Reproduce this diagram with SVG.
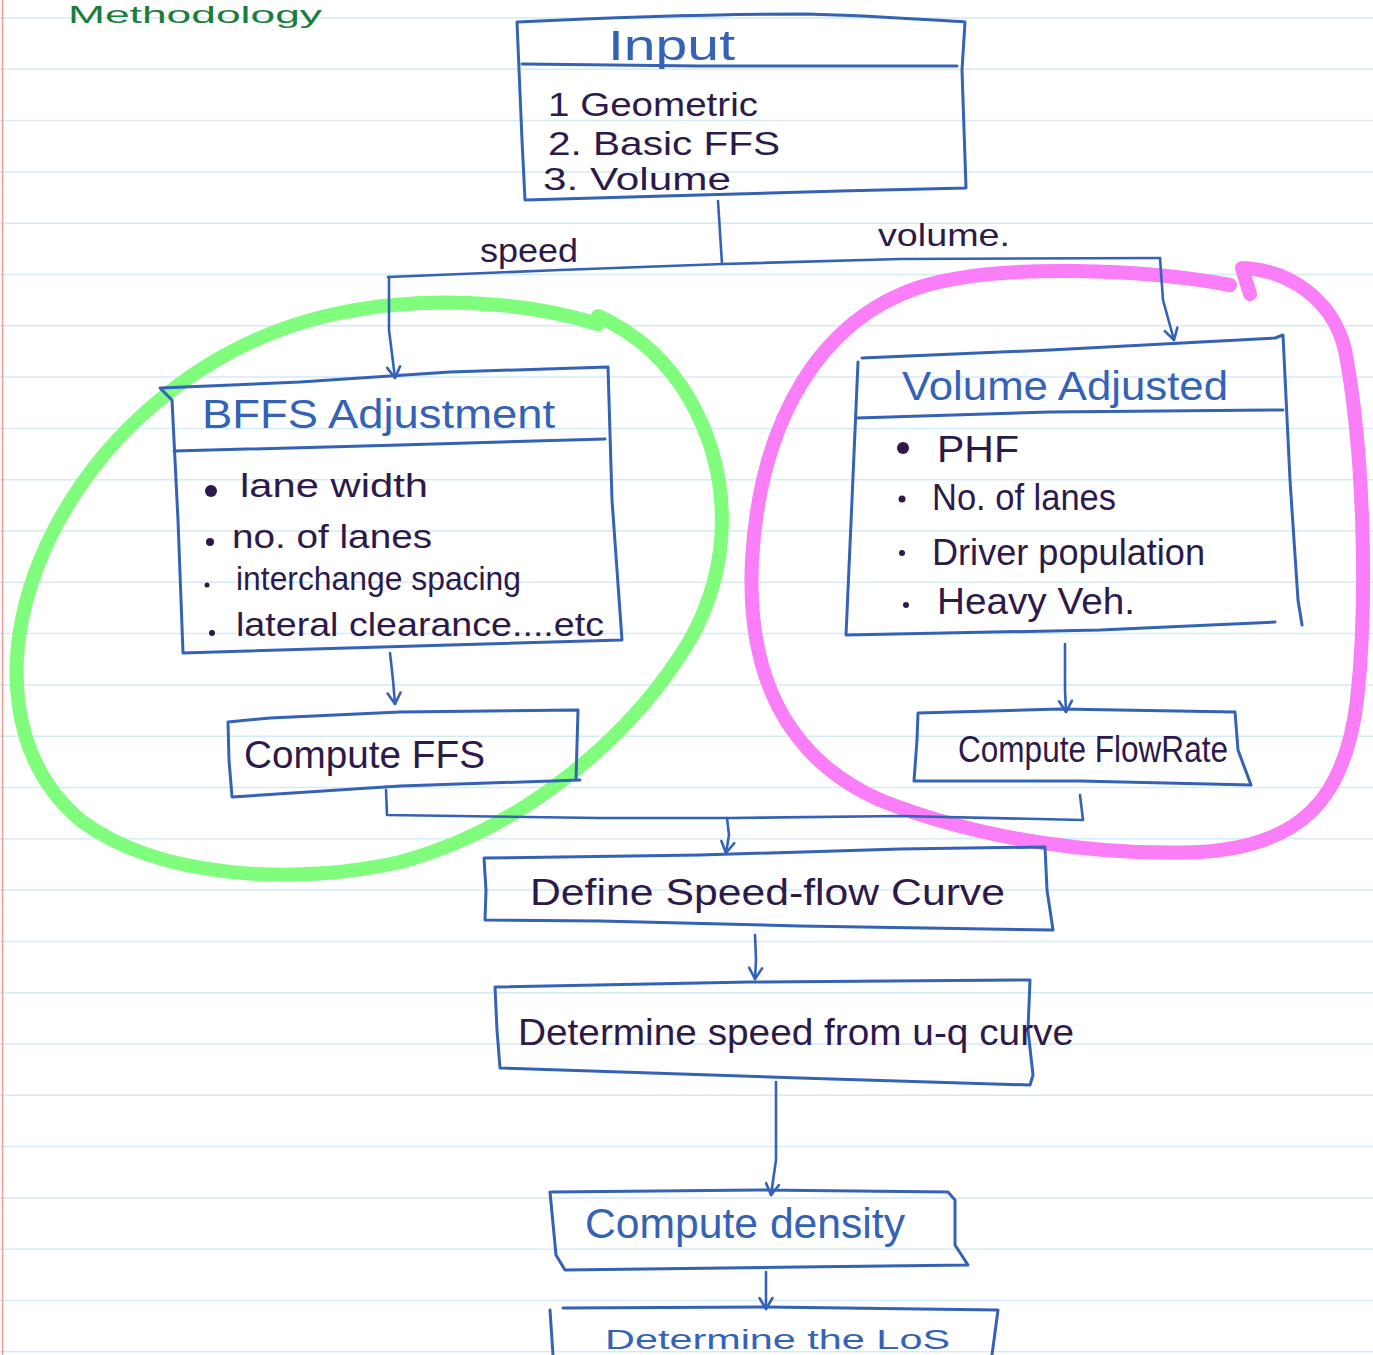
<svg xmlns="http://www.w3.org/2000/svg" width="1373" height="1355" viewBox="0 0 1373 1355">
<defs>
<style>
.rule{stroke:#d3eaf7;stroke-width:1.5}
.box{fill:none;stroke:#3462b6;stroke-width:3;stroke-linecap:round;stroke-linejoin:round}
.con{fill:none;stroke:#3462b6;stroke-width:2.6;stroke-linecap:round;stroke-linejoin:round}
.t{font-family:"Liberation Sans","DejaVu Sans",sans-serif;fill:#2d1a4a}
.tb{font-family:"Liberation Sans","DejaVu Sans",sans-serif;fill:#3462b6}
.hl{fill:none;stroke-width:14;stroke-linecap:round;stroke-linejoin:round}
.dot{fill:#2d1a4a}
</style>
<marker id="arr" viewBox="0 0 16 16" refX="14" refY="8" markerWidth="16" markerHeight="16" markerUnits="userSpaceOnUse" orient="auto">
<path d="M3,1.5 L14,8 L3,14.5" fill="none" stroke="#3462b6" stroke-width="2.6" stroke-linecap="round" stroke-linejoin="round"/>
</marker>
</defs>
<rect width="1373" height="1355" fill="#ffffff"/>
<g id="paper">
<line class="rule" x1="0" y1="18" x2="1373" y2="18"/>
<line class="rule" x1="0" y1="69.3" x2="1373" y2="69.3"/>
<line class="rule" x1="0" y1="120.6" x2="1373" y2="120.6"/>
<line class="rule" x1="0" y1="171.9" x2="1373" y2="171.9"/>
<line class="rule" x1="0" y1="223.2" x2="1373" y2="223.2"/>
<line class="rule" x1="0" y1="274.5" x2="1373" y2="274.5"/>
<line class="rule" x1="0" y1="325.8" x2="1373" y2="325.8"/>
<line class="rule" x1="0" y1="377.1" x2="1373" y2="377.1"/>
<line class="rule" x1="0" y1="428.4" x2="1373" y2="428.4"/>
<line class="rule" x1="0" y1="479.7" x2="1373" y2="479.7"/>
<line class="rule" x1="0" y1="531" x2="1373" y2="531"/>
<line class="rule" x1="0" y1="582.3" x2="1373" y2="582.3"/>
<line class="rule" x1="0" y1="633.6" x2="1373" y2="633.6"/>
<line class="rule" x1="0" y1="684.9" x2="1373" y2="684.9"/>
<line class="rule" x1="0" y1="736.2" x2="1373" y2="736.2"/>
<line class="rule" x1="0" y1="787.5" x2="1373" y2="787.5"/>
<line class="rule" x1="0" y1="838.8" x2="1373" y2="838.8"/>
<line class="rule" x1="0" y1="890.1" x2="1373" y2="890.1"/>
<line class="rule" x1="0" y1="941.4" x2="1373" y2="941.4"/>
<line class="rule" x1="0" y1="992.7" x2="1373" y2="992.7"/>
<line class="rule" x1="0" y1="1044" x2="1373" y2="1044"/>
<line class="rule" x1="0" y1="1095.3" x2="1373" y2="1095.3"/>
<line class="rule" x1="0" y1="1146.6" x2="1373" y2="1146.6"/>
<line class="rule" x1="0" y1="1197.9" x2="1373" y2="1197.9"/>
<line class="rule" x1="0" y1="1249.2" x2="1373" y2="1249.2"/>
<line class="rule" x1="0" y1="1300.5" x2="1373" y2="1300.5"/>
<line class="rule" x1="0" y1="1351.8" x2="1373" y2="1351.8"/>
<line x1="2.5" y1="0" x2="2.5" y2="1355" stroke="#f29a9a" stroke-width="1.5"/>
</g>
<g id="highlights">
<path class="hl" stroke="#80fd7c" d="M598,324 C520,300 420,295 330,315 C200,345 90,440 40,560 C0,660 10,760 80,820 C160,880 300,885 400,862 C520,830 630,740 690,640 C735,560 730,470 690,400 C670,365 640,335 598,316"/>
<path class="hl" stroke="#f97ef7" d="M1230,285 C1150,270 1000,262 920,287 C820,320 760,420 752,560 C746,680 790,760 880,800 C980,840 1100,856 1200,852 C1300,846 1345,800 1357,700 C1368,600 1364,450 1345,350 C1333,300 1290,270 1242,268 L1250,294"/>
</g>
<text class="t" x="68" y="23" font-size="24" textLength="254" lengthAdjust="spacingAndGlyphs" style="fill:#1b7d3b">Methodology</text>
<g id="connectors">
<path class="con" d="M718,201 L722,264"/>
<path class="con" d="M388,277 L560,270 L723,264 L900,259 L1160,258"/>
<path class="con" marker-end="url(#arr)" d="M389,277 L389,330 L395,378"/>
<path class="con" marker-end="url(#arr)" d="M1160,258 L1163,300 L1174,340"/>
<path class="con" marker-end="url(#arr)" d="M390,653 L393,680 L395,704"/>
<path class="con" marker-end="url(#arr)" d="M1065,644 L1065,690 L1066,712"/>
<path class="con" d="M386,790 L387,815 L600,818 L730,818 L900,816 L1083,820 L1080,795"/>
<path class="con" marker-end="url(#arr)" d="M727,818 L729,835 L726,853"/>
<path class="con" marker-end="url(#arr)" d="M755,935 L756,960 L755,979"/>
<path class="con" marker-end="url(#arr)" d="M776,1082 L776,1160 L771,1195"/>
<path class="con" marker-end="url(#arr)" d="M766,1272 L766,1295 L766,1309"/>
<text class="t" x="480" y="262" font-size="34" textLength="98" lengthAdjust="spacingAndGlyphs">speed</text>
<text class="t" x="878" y="246" font-size="32" textLength="132" lengthAdjust="spacingAndGlyphs">volume.</text>
</g>
<g id="input">
<path class="box" d="M517,22 C600,18 700,14 806,14 C880,16 930,20 965,22 L962,70 L966,188 L840,191 L700,195 L525,200 L522,140 Z"/>
<path class="box" d="M522,64 L700,66 L957,66"/>
<text class="tb" x="608" y="60" font-size="42" textLength="127" lengthAdjust="spacingAndGlyphs">Input</text>
<text class="t" x="548" y="116" font-size="33" textLength="210" lengthAdjust="spacingAndGlyphs">1 Geometric</text>
<text class="t" x="548" y="155" font-size="33" textLength="232" lengthAdjust="spacingAndGlyphs">2. Basic FFS</text>
<text class="t" x="543" y="190" font-size="31" textLength="188" lengthAdjust="spacingAndGlyphs">3. Volume</text>
</g>
<g id="bffs">
<path class="box" d="M160,388 L300,382 L450,372 L608,367 L612,500 L622,640 L450,645 L183,653 L178,520 L172,400 Z"/>
<path class="box" d="M174,451 L400,445 L605,439"/>
<text class="tb" x="202" y="428" font-size="40" textLength="353" lengthAdjust="spacingAndGlyphs">BFFS  Adjustment</text>
<circle class="dot" cx="211" cy="491" r="6"/>
<text class="t" x="240" y="497" font-size="34" textLength="188" lengthAdjust="spacingAndGlyphs">lane width</text>
<circle class="dot" cx="210" cy="542" r="4"/>
<text class="t" x="232" y="548" font-size="34" textLength="200" lengthAdjust="spacingAndGlyphs">no. of lanes</text>
<circle class="dot" cx="207" cy="585" r="2.5"/>
<text class="t" x="236" y="590" font-size="34" textLength="285" lengthAdjust="spacingAndGlyphs">interchange spacing</text>
<circle class="dot" cx="212" cy="633" r="3"/>
<text class="t" x="236" y="636" font-size="34" textLength="368" lengthAdjust="spacingAndGlyphs">lateral clearance....etc</text>
</g>
<g id="compute-ffs">
<path class="box" d="M228,722 L270,718 L400,712 L578,710 L576,780 L580,780 L400,786 L232,797 L229,760 Z"/>
<text class="t" x="244" y="768" font-size="38" textLength="241" lengthAdjust="spacingAndGlyphs">Compute  FFS</text>
</g>
<g id="volume-adj">
<path class="box" d="M862,358 L1050,350 L1275,338 L1283,335 L1290,480 L1298,600 L1302,625"/>
<path class="box" d="M858,362 L852,500 L846,635 L1100,630 L1275,622"/>
<path class="box" d="M857,418 L1050,412 L1283,410"/>
<text class="tb" x="902" y="400" font-size="40" textLength="326" lengthAdjust="spacingAndGlyphs">Volume  Adjusted</text>
<circle class="dot" cx="903" cy="448" r="6"/>
<text class="t" x="937" y="462" font-size="36" textLength="82" lengthAdjust="spacingAndGlyphs">PHF</text>
<circle class="dot" cx="902" cy="499" r="3.5"/>
<text class="t" x="932" y="510" font-size="36" textLength="184" lengthAdjust="spacingAndGlyphs">No. of lanes</text>
<circle class="dot" cx="902" cy="553" r="3"/>
<text class="t" x="932" y="565" font-size="36" textLength="273" lengthAdjust="spacingAndGlyphs">Driver population</text>
<circle class="dot" cx="906" cy="605" r="3"/>
<text class="t" x="937" y="614" font-size="36" textLength="198" lengthAdjust="spacingAndGlyphs">Heavy Veh.</text>
</g>
<g id="compute-flow">
<path class="box" d="M918,713 L1060,709 L1235,712 L1238,750 L1251,785 L1080,781 L914,781 L917,740 Z"/>
<text class="t" x="958" y="762" font-size="36" textLength="270" lengthAdjust="spacingAndGlyphs">Compute FlowRate</text>
</g>
<g id="define-curve">
<path class="box" d="M484,858 L700,855 L900,849 L1045,847 L1047,890 L1053,930 L800,926 L600,921 L485,920 L486,890 Z"/>
<text class="t" x="530" y="905" font-size="36" textLength="475" lengthAdjust="spacingAndGlyphs">Define  Speed-flow Curve</text>
</g>
<g id="determine-speed">
<path class="box" d="M495,987 L750,982 L1030,980 L1028,1030 L1033,1075 L1030,1085 L800,1078 L500,1068 L497,1030 Z"/>
<text class="t" x="518" y="1045" font-size="36" textLength="556" lengthAdjust="spacingAndGlyphs">Determine speed from u-q curve</text>
</g>
<g id="compute-density">
<path class="box" d="M552,1192 L760,1190 L948,1192 L955,1200 L955,1245 L968,1265 L800,1267 L565,1270 L556,1255 L550,1192"/>
<text class="tb" x="585" y="1238" font-size="42" textLength="320" lengthAdjust="spacingAndGlyphs">Compute density</text>
</g>
<g id="determine-los">
<path class="box" d="M563,1308 L766,1307 L998,1310 L992,1355"/>
<path class="box" d="M550,1310 L553,1355"/>
<text class="tb" x="605" y="1349" font-size="27" textLength="345" lengthAdjust="spacingAndGlyphs">Determine the LoS</text>
</g>
</svg>
